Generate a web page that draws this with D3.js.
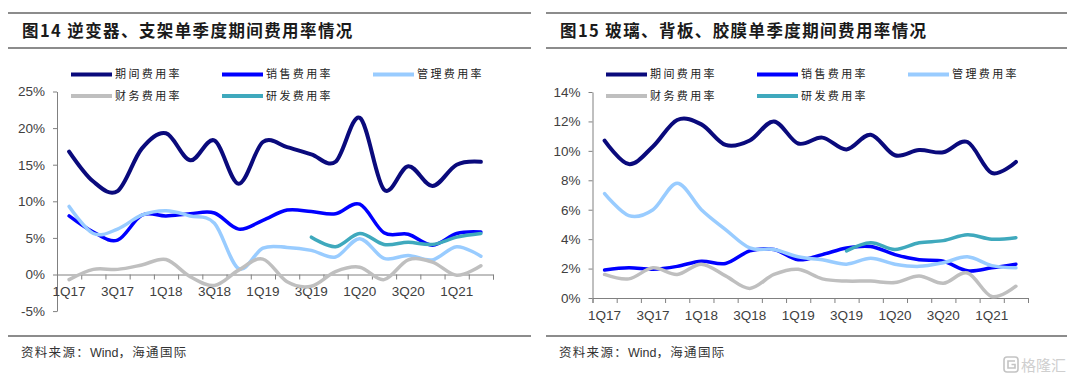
<!DOCTYPE html>
<html>
<head>
<meta charset="utf-8">
<script src="https://cdn.jsdelivr.net/npm/d3@7"></script>
<style>
  body { margin: 0; background: #fff; }
  svg { display: block; }
  .axis text { font-family: "Liberation Sans", Arial, sans-serif; font-size: 13.5px; fill: #404040; }
  .axis path, .axis line { stroke: #808080; }
</style>
</head>
<body>
<svg id="viz" width="1080" height="378"></svg>
<script>
// quarters on the x axis, labels shown every other quarter
const quarters = ["1Q17","2Q17","3Q17","4Q17","1Q18","2Q18","3Q18","4Q18","1Q19","2Q19","3Q19","4Q19","1Q20","2Q20","3Q20","4Q20","1Q21","2Q21"];
const tickLabels = ["1Q17","3Q17","1Q18","3Q18","1Q19","3Q19","1Q20","3Q20","1Q21"];
const seriesNames = ["期间费用率","销售费用率","管理费用率","财务费用率","研发费用率"];
const seriesColors = ["#0a0a7c","#0000ff","#99ccff","#bfbfbf","#3fa9bd"];

// fig 14: inverter / mounting (%)
const invPeriod  = [16.8,12.7,11.4,17.2,19.3,15.6,18.3,12.4,18.1,17.4,16.4,15.4,21.4,11.6,14.8,12.1,15.0,15.4];
const invSales   = [8.0,5.8,4.7,8.1,8.0,8.3,8.4,6.2,7.4,8.8,8.6,8.3,9.6,5.7,5.5,4.0,5.6,5.8];
const invAdmin   = [9.3,5.6,6.2,8.1,8.7,8.0,7.0,0.8,3.6,3.7,3.3,2.4,4.9,2.2,2.6,2.0,3.8,2.5];
const invFinance = [-0.7,0.7,0.7,1.3,2.05,-0.3,-1.5,0.6,2.1,-1.0,-1.6,0.4,1.0,-0.7,2.0,1.7,-0.1,1.2];
const invRD      = [null,null,null,null,null,null,null,null,null,null,5.1,3.8,5.6,4.1,4.4,4.1,5.1,5.6];
const invYTicks  = [-5,0,5,10,15,20,25];

// fig 15: glass / backsheet / film (%)
const glassPeriod  = [10.7,9.1,10.3,12.1,11.8,10.4,10.7,12.0,10.5,10.9,10.1,11.1,9.7,10.05,9.9,10.6,8.5,9.25];
const glassSales   = [1.9,2.05,1.95,2.15,2.5,2.35,3.2,3.3,2.6,2.95,3.4,3.5,2.95,2.6,2.5,1.85,2.05,2.3];
const glassAdmin   = [7.1,5.6,6.0,7.8,6.0,4.65,3.4,3.3,2.8,2.6,2.3,2.7,2.3,2.15,2.4,2.8,2.2,2.05];
const glassFinance = [1.6,1.3,2.05,1.6,2.3,1.5,0.65,1.6,1.95,1.3,1.15,1.15,1.05,1.5,1.0,1.7,0.1,0.8];
const glassRD      = [null,null,null,null,null,null,null,null,null,null,3.2,3.75,3.3,3.75,3.9,4.3,4.0,4.1];
const glassYTicks  = [0,2,4,6,8,10,12,14];

const svg = d3.select("#viz");

function frame(x0, x1, title) {
  const g = svg.append("g");
  [13, 48, 336].forEach(yy => {
    g.append("line").attr("x1", x0).attr("x2", x1).attr("y1", yy).attr("y2", yy)
      .attr("stroke", "#666").attr("stroke-width", 1.5);
  });
  g.append("text").attr("x", x0 + 14).attr("y", 37)
    .style("font-family", "'Noto Sans CJK SC', sans-serif")
    .style("font-size", "16.5px").style("font-weight", "bold")
    .style("letter-spacing", "1.4px").attr("fill", "#1a1a1a")
    .text(title);
  const src = g.append("text").attr("x", x0 + 13).attr("y", 356.5)
    .style("font-family", "'Noto Sans CJK SC', sans-serif")
    .style("font-size", "12.5px").attr("fill", "#333");
  src.append("tspan").style("letter-spacing", "1.3px").text("资料来源：");
  src.append("tspan").style("font-family", "'Liberation Sans', Arial, sans-serif").text("Wind");
  src.append("tspan").style("letter-spacing", "1.3px").text("，海通国际");
}

function chart(cfg) {
  const g = svg.append("g");
  const x = d3.scaleBand().domain(quarters).range([cfg.x0, cfg.x1]).padding(0);
  const y = d3.scaleLinear().domain(cfg.yDomain).range([cfg.yBottom, cfg.yTop]);

  // y axis
  g.append("g").attr("class", "axis")
    .attr("transform", `translate(${cfg.x0},0)`)
    .call(d3.axisLeft(y).tickValues(cfg.yTicks).tickFormat(d => d + "%").tickSize(4).tickSizeOuter(0).tickPadding(8));

  // x axis: boundary ticks via an index scale, labels at band centres
  const xi = d3.scaleLinear().domain([0, quarters.length]).range([cfg.x0, cfg.x1]);
  g.append("g").attr("class", "axis")
    .attr("transform", `translate(0,${y(0)})`)
    .call(d3.axisBottom(xi).ticks(quarters.length).tickFormat("").tickSize(5).tickSizeOuter(5));
  const lab = g.append("g").attr("class", "axis")
    .attr("transform", `translate(0,${y(0)})`)
    .call(d3.axisBottom(x).tickValues(tickLabels).tickSize(0).tickPadding(12));
  lab.select(".domain").remove();

  const line = d3.line()
    .defined(d => d != null)
    .x((d, i) => x(quarters[i]) + x.bandwidth() / 2)
    .y(d => y(d))
    .curve(d3.curveCardinal.tension(0));

  cfg.series.forEach((s, k) => {
    g.append("path").datum(s)
      .attr("fill", "none")
      .attr("stroke", seriesColors[k])
      .attr("stroke-width", k === 0 ? 4 : 3.5)
      .attr("stroke-linecap", "round")
      .attr("stroke-linejoin", "round")
      .attr("d", line);
  });

  // legend (white box hides the top of the axis)
  const lg = g.append("g");
  lg.append("rect").attr("x", cfg.legendX - 6).attr("y", 62)
    .attr("width", 430).attr("height", 46).attr("fill", "#fff");
  seriesNames.forEach((name, k) => {
    const cx = cfg.legendX + (k % 3) * 151;
    const cy = k < 3 ? 74.5 : 96;
    lg.append("line").attr("x1", cx).attr("x2", cx + 41).attr("y1", cy).attr("y2", cy)
      .attr("stroke", seriesColors[k]).attr("stroke-width", 4);
    lg.append("text").attr("x", cx + 44).attr("y", cy).attr("dy", "0.36em")
      .style("font-family", "'Noto Sans CJK SC', sans-serif")
      .style("font-size", "11px").style("letter-spacing", "2.4px").attr("fill", "#222")
      .text(name);
  });
}

frame(8, 531, "图14 逆变器、支架单季度期间费用率情况");
frame(546, 1067, "图15 玻璃、背板、胶膜单季度期间费用率情况");

chart({
  x0: 57, x1: 493, yDomain: [-5, 25], yBottom: 311.1, yTop: 91.5, yTicks: invYTicks,
  legendX: 71, series: [invPeriod, invSales, invAdmin, invFinance, invRD]
});
chart({
  x0: 592.5, x1: 1028, yDomain: [0, 14], yBottom: 298, yTop: 92, yTicks: glassYTicks,
  legendX: 606, series: [glassPeriod, glassSales, glassAdmin, glassFinance, glassRD]
});

// watermark
const wm = svg.append("g").attr("fill", "none").attr("stroke", "#c4c4c4").attr("stroke-width", 1.6);
wm.append("rect").attr("x", 1004).attr("y", 357).attr("width", 14).attr("height", 15).attr("rx", 3);
wm.append("path").attr("d", "M1015,361 H1008 V368 H1015 V364.5 H1011.5");
svg.append("text").attr("x", 1021).attr("y", 370.5)
  .style("font-family", "'Noto Sans CJK SC', sans-serif").style("font-size", "15px")
  .attr("fill", "#cfcfcf").text("格隆汇");
</script>
</body>
</html>
